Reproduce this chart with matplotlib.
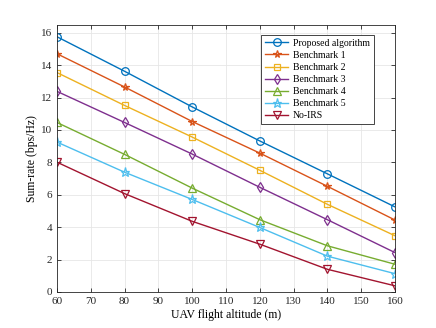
import matplotlib
matplotlib.use('Agg')
import matplotlib.pyplot as plt

plt.rcParams['font.family'] = ['Liberation Serif', 'DejaVu Serif']

altitude = [60, 80, 100, 120, 140, 160]
proposed = [15.75, 13.62, 11.42, 9.32, 7.29, 5.25]
bench1 = [14.70, 12.65, 10.52, 8.57, 6.52, 4.44]
bench2 = [13.54, 11.51, 9.56, 7.51, 5.41, 3.47]
bench3 = [12.38, 10.46, 8.51, 6.46, 4.46, 2.43]
bench4 = [10.46, 8.49, 6.41, 4.46, 2.85, 1.71]
bench5 = [9.25, 7.39, 5.71, 3.98, 2.21, 1.13]
no_irs = [8.01, 6.07, 4.36, 2.95, 1.40, 0.38]

names = ['Proposed algorithm', 'Benchmark 1', 'Benchmark 2', 'Benchmark 3',
         'Benchmark 4', 'Benchmark 5', 'No-IRS']
series = [proposed, bench1, bench2, bench3, bench4, bench5, no_irs]
colors = ['#0072BD', '#D95319', '#EDB120', '#7E2F8E', '#77AC30', '#4DBEEE', '#A2142F']
markers = ['o', '*', 's', 'd', '^', '*', 'v']
msizes = [5.5, 5.5, 5, 5.5, 5.5, 6.5, 5.5]

fig = plt.figure(figsize=(4.36, 3.28), dpi=100)
ax = fig.add_axes([0.1307, 0.1098, 0.7753, 0.8152])

for y, name, c, m, ms in zip(series, names, colors, markers, msizes):
    ax.plot(altitude, y, color=c, marker=m, markersize=ms, markerfacecolor='none',
            markeredgewidth=0.9, linewidth=1.0, label=name)

ax.set_xlim(60, 160)
ax.set_ylim(0, 16.5)
ax.set_xticks(range(60, 161, 10))
ax.set_yticks(range(0, 17, 2))
ax.grid(True, color='#e6e6e6', linewidth=0.6)
ax.set_axisbelow(True)
ax.tick_params(direction='in', top=True, right=True, labelsize=8, length=3,
               width=0.6, colors='#262626')
for s in ax.spines.values():
    s.set_linewidth(0.6)
    s.set_color('#262626')

ax.set_xlabel('UAV flight altitude (m)', fontsize=8.5, labelpad=2)
ax.set_ylabel('Sum-rate (bps/Hz)', fontsize=8.5, labelpad=2)

leg = ax.legend(loc='upper right', fontsize=7, fancybox=False, edgecolor='#262626',
                framealpha=1, handlelength=2.4, handletextpad=0.5, borderpad=0.4,
                labelspacing=0.32, bbox_to_anchor=(0.952, 0.98))
leg.get_frame().set_linewidth(0.6)

fig.savefig('out.png', dpi=100)
